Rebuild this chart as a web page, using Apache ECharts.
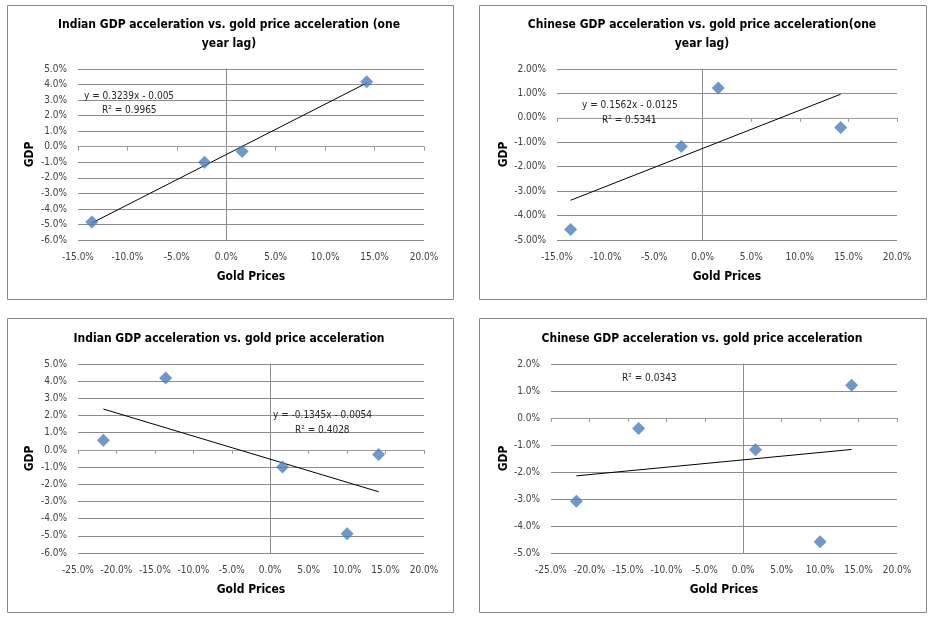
<!DOCTYPE html>
<html>
<head>
<meta charset="utf-8">
<script src="https://cdn.jsdelivr.net/npm/echarts@6/dist/echarts.min.js"></script>
<style>
html,body{margin:0;padding:0;background:#fff;}
#c{width:931px;height:619px;}
</style>
</head>
<body>
<div id="c"></div>
<script>
// ---- data (percent units) ----
var titles = [
  'Indian GDP acceleration vs. gold price acceleration (one\nyear lag)',
  'Chinese GDP acceleration vs. gold price acceleration(one\nyear lag)',
  'Indian GDP acceleration vs. gold price acceleration',
  'Chinese GDP acceleration vs. gold price acceleration'
];
var goldLag = [-13.6, -2.2, 1.6, 14.2];
var indiaGdpLag = [-4.84, -1.0, -0.3, 4.18];
var chinaGdpLag = [-4.57, -1.17, 1.22, -0.39];
var gold = [-21.7, -13.6, 1.6, 10.0, 14.1];
var indiaGdp = [0.56, 4.19, -1.0, -4.88, -0.27];
var chinaGdp = [-3.08, -0.39, -1.18, -4.58, 1.21];
// trendline equations (y = slope*x + intercept, fractions)
var slopes = [0.3239, 0.1562, -0.1345, 0.0273];
var intercepts = [-0.005, -0.0125, -0.0054, -0.0155];
var eqLabels = [
  ['y = 0.3239x - 0.005', 'R² = 0.9965'],
  ['y = 0.1562x - 0.0125', 'R² = 0.5341'],
  ['y = -0.1345x - 0.0054', 'R² = 0.4028'],
  ['', 'R² = 0.0343']
];
var xRanges = [[-15, 20], [-15, 20], [-25, 20], [-25, 20]];
var yRanges = [[-6, 5], [-5, 2], [-6, 5], [-5, 2]];
var yDecimals = [1, 2, 1, 1];

var panelXs = [goldLag, goldLag, gold, gold];
var panelYs = [indiaGdpLag, chinaGdpLag, indiaGdp, chinaGdp];

// ---- layout ----
var FONT = "'Liberation Sans Narrow', 'DejaVu Sans Condensed', sans-serif";
var borders = [[7,5,446,294],[479,5,447,294],[7,318,446,294],[479,318,447,294]];
var grids = [
  {left:78, top:69, width:346, height:171},
  {left:557, top:69, width:340, height:171},
  {left:78, top:364, width:346, height:189},
  {left:551, top:364, width:346, height:189}
];
var titlePos = [[229,15],[702,15],[229,329],[702,329]];
var eqPos = [
  [[84,98],[102,112]],
  [[582,107],[602,122]],
  [[273,417],[295,432]],
  [[0,0],[622,380]]
];
var gdpGap = [42,47,42,41];

var option = {
  animation:false,
  backgroundColor:'#fff',
  title:[], grid:[], xAxis:[], yAxis:[], series:[], graphic:[]
};

for (var k=0;k<4;k++){
  var b = borders[k];
  option.graphic.push({type:'rect', shape:{x:b[0]+0.5,y:b[1]+0.5,width:b[2],height:b[3]}, style:{fill:'none', stroke:'#898989', lineWidth:1}, silent:true, z:-1});
  option.title.push({text:titles[k], left:titlePos[k][0], top:titlePos[k][1], textAlign:'center', padding:0,
    textStyle:{fontFamily:FONT, fontSize:12, fontWeight:'bold', color:'#000', lineHeight:19}});
  option.grid.push(grids[k]);
  var dec = yDecimals[k];
  // labelled axes
  option.xAxis.push({type:'value', gridIndex:k, min:xRanges[k][0], max:xRanges[k][1], interval:5,
    position:'bottom',
    axisLine:{show:false, onZero:false}, axisTick:{show:false}, splitLine:{show:false},
    axisLabel:{formatter:function(v){return v.toFixed(1)+'%';}, fontFamily:FONT, fontSize:10, color:'#404040', margin:12},
    name:'Gold Prices', nameLocation:'middle', nameGap:31,
    nameTextStyle:{fontFamily:FONT, fontSize:12, fontWeight:'bold', color:'#000'}});
  option.yAxis.push({type:'value', gridIndex:k, min:yRanges[k][0], max:yRanges[k][1], interval:1,
    position:'left',
    axisLine:{show:false, onZero:false}, axisTick:{show:false},
    splitLine:{show:true, lineStyle:{color:'#8c8c8c', width:1}},
    axisLabel:{formatter:(function(d){return function(v){return v.toFixed(d)+'%';};})(dec), fontFamily:FONT, fontSize:10, color:'#404040', margin:11},
    name:'GDP', nameLocation:'middle', nameGap:gdpGap[k],
    nameTextStyle:{fontFamily:FONT, fontSize:12, fontWeight:'bold', color:'#000'}});
}
// zero-crossing axes
for (var k=0;k<4;k++){
  option.xAxis.push({type:'value', gridIndex:k, min:xRanges[k][0], max:xRanges[k][1], interval:5,
    position:'bottom',
    axisLine:{show:true, onZero:true, onZeroAxisIndex:k, lineStyle:{color:'#9a9a9a', width:1}},
    axisTick:{show:true, length:4, lineStyle:{color:'#9a9a9a'}},
    axisLabel:{show:false}, splitLine:{show:false}});
  option.yAxis.push({type:'value', gridIndex:k, min:yRanges[k][0], max:yRanges[k][1], interval:1,
    position:'left',
    axisLine:{show:true, onZero:true, onZeroAxisIndex:k, lineStyle:{color:'#8c8c8c', width:1}},
    axisTick:{show:false}, axisLabel:{show:false}, splitLine:{show:false}});
}

for (var k=0;k<4;k++){
  var xs = panelXs[k], ys = panelYs[k];
  var pts = xs.map(function(x,i){return [x, ys[i]];});
  var xmin = Math.min.apply(null, xs), xmax = Math.max.apply(null, xs);
  var a = slopes[k], c = intercepts[k]*100;
  option.series.push({type:'line', xAxisIndex:k, yAxisIndex:k,
    data:[[xmin, a*xmin + c],[xmax, a*xmax + c]],
    showSymbol:false, symbol:'none', lineStyle:{color:'#000', width:1}, silent:true, z:3});
  option.series.push({type:'scatter', xAxisIndex:k, yAxisIndex:k, data:pts,
    symbol:'diamond', symbolSize:[13,13], itemStyle:{color:'#4a7ebb'}, z:4});
  var eq = eqLabels[k];
  for (var j=0;j<2;j++){
    if (!eq[j]) continue;
    option.graphic.push({type:'text', left:eqPos[k][j][0], top:eqPos[k][j][1]-7, z:10,
      style:{text:eq[j], font:'10px '+FONT, fill:'#262626'}});
  }
}

var chart = echarts.init(document.getElementById('c'), null, {renderer:'canvas'});
chart.setOption(option);
</script>
</body>
</html>
